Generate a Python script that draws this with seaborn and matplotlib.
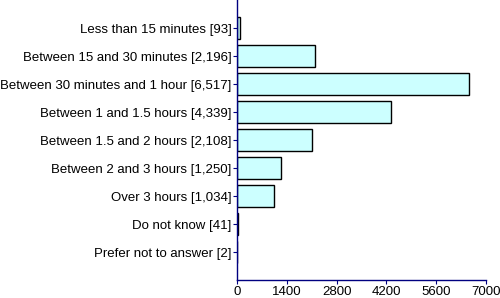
import pandas as pd
import matplotlib.pyplot as plt
import seaborn as sns

# --- データ ---
categories = [
    'Less than 15 minutes [93]',
    'Between 15 and 30 minutes [2,196]',
    'Between 30 minutes and 1 hour [6,517]',
    'Between 1 and 1.5 hours [4,339]',
    'Between 1.5 and 2 hours [2,108]',
    'Between 2 and 3 hours [1,250]',
    'Over 3 hours [1,034]',
    'Do not know [41]',
    'Prefer not to answer [2]',
]
counts = [93, 2196, 6517, 4339, 2108, 1250, 1034, 41, 2]
x_ticks = [0, 1400, 2800, 4200, 5600, 7000]

NAVY = '#000080'


def main():
    df = pd.DataFrame({'Category': categories, 'Count': counts})

    sns.set_style('white')
    plt.rcParams['font.family'] = ['Liberation Sans', 'DejaVu Sans']

    fig = plt.figure(figsize=(5.0, 2.98), dpi=100)
    ax = fig.add_axes([0.474, 0.0604, 0.498, 0.9396])

    sns.barplot(data=df, x='Count', y='Category', orient='h', ax=ax,
                color='#CCFFFF', saturation=1, edgecolor='black',
                linewidth=1.0, width=0.82)

    ax.set_xlim(0, 7000)
    ax.set_ylim(len(categories) - 0.0, -1.0)
    ax.set_xticks(x_ticks)
    ax.set_xlabel('')
    ax.set_ylabel('')

    for side in ['top', 'right']:
        ax.spines[side].set_visible(False)
    for side in ['left', 'bottom']:
        ax.spines[side].set_color(NAVY)
        ax.spines[side].set_linewidth(1.0)

    ax.tick_params(axis='both', colors=NAVY, labelcolor='black',
                   labelsize=9.5, length=3, width=0.8, direction='out',
                   left=True, bottom=True, pad=1)

    fig.savefig('out.png', dpi=100)


if __name__ == '__main__':
    main()
